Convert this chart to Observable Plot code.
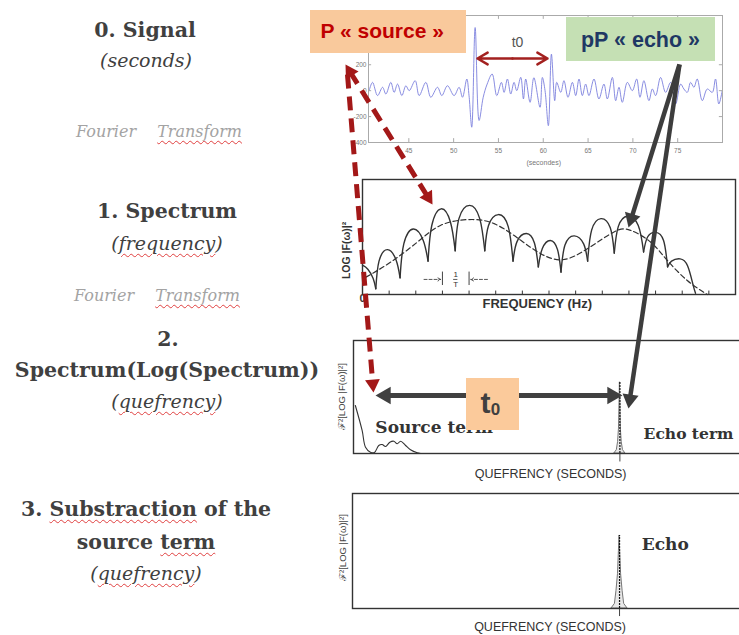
<!DOCTYPE html>
<html><head><meta charset="utf-8">
<script src="https://cdn.jsdelivr.net/npm/d3@7"></script>
<script src="https://cdn.jsdelivr.net/npm/@observablehq/plot@0.6"></script>
<style>
html,body{margin:0;padding:0;background:#fff;}
#stage{position:relative;width:739px;height:635px;overflow:hidden;background:#fff;}
.panel{position:absolute;}
.panel svg{overflow:visible;max-width:none !important;}
.lbl{position:absolute;transform:translate(-50%,-50%);white-space:nowrap;font-family:"DejaVu Serif",serif;color:#404040;text-align:center;line-height:1;}
.b{font-weight:bold;font-size:20.5px;}
.i{font-style:italic;font-size:19px;}
.ft{font-style:italic;font-size:16px;color:#a3a3a3;}
.sp{text-decoration:underline wavy #e04040;text-decoration-thickness:1px;text-underline-offset:3px;}
</style></head><body><div id="stage"></div>
<script>
// ---------- DATA ----------
// 0. Signal (seconds, amplitude)
const sigT = [40.57,40.95,41.51,42.07,42.44,42.99,43.36,43.74,44.22,44.67,45.04,45.71,46.15,46.9,47.45,48.2,48.68,49.31,50.05,50.61,50.99,51.47,51.72,52.02,52.4,52.84,53.3,53.74,54.3,54.81,55.33,55.63,56.0,56.37,56.74,57.04,57.49,57.79,58.04,58.53,58.95,59.64,59.9,60.2,60.57,60.91,61.28,61.5,61.95,62.31,62.76,63.25,63.62,63.99,64.36,64.73,65.1,65.66,66.21,66.77,67.15,67.71,68.08,68.45,68.82,69.38,69.94,70.42,70.79,71.23,71.79,72.17,72.54,73.09,73.65,74.21,74.77,75.33,75.69,76.07,76.44,76.81,77.18,77.74,78.3,78.86,79.22,79.59,79.97];
const sigV = [0,64,-38,26,-26,64,-13,51,-38,38,0,77,-38,64,-51,26,-38,38,-38,26,-51,90,-40,-282,487,-230,-51,51,128,-38,64,-13,90,-26,64,0,103,-64,90,-90,100,-128,102,0,-270,282,-77,64,-13,77,-51,64,-38,90,-38,51,-38,90,-64,51,-64,102,-77,26,-90,64,0,90,-51,77,-77,13,-38,102,-13,64,-103,51,13,-13,64,26,90,-77,13,-13,90,-103,0];
const sigXTicks = [45,50,55,60,65,70,75];
const sigYTicks = [200,0,-200,-400];

// 1. Spectrum: arches of log|F|^2 (frequency in tick units, level 0-10)
const archX = [
  [0,0.2,0.4,0.5],
  [0.5,0.62,0.94,1.26,1.41],
  [1.41,1.55,1.91,2.28,2.46],
  [2.46,2.6,2.95,3.3,3.48],
  [3.48,3.62,4.02,4.4,4.59],
  [4.59,4.73,5.1,5.47,5.65],
  [5.65,5.8,6.15,6.45,6.6],
  [6.6,6.75,7.05,7.32,7.45],
  [7.45,7.6,7.95,8.3,8.45],
  [8.45,8.6,8.95,9.3,9.45],
  [9.45,9.6,9.95,10.35,10.55],
  [10.55,10.7,11.0,11.3,11.45],
  [11.45,11.6,11.92,12.2,12.4,12.5]
];
const archY = [
  [2.55,2.2,1.4,0.5],
  [0.5,2.9,3.9,3.0,1.45],
  [1.45,4.4,5.7,4.7,2.9],
  [2.9,6.0,7.45,6.3,3.8],
  [3.8,6.6,7.75,6.6,3.8],
  [3.8,6.0,6.95,5.9,2.9],
  [2.9,4.6,5.3,4.5,2.4],
  [2.4,4.0,4.7,3.9,1.95],
  [1.95,4.3,5.1,4.4,2.9],
  [2.9,5.6,6.6,5.8,3.6],
  [3.6,5.9,6.8,6.0,3.7],
  [3.7,5.0,5.4,4.7,2.4],
  [2.4,2.9,3.1,2.5,0.9,0.1]
];
const envX = [0.13,1.06,2.06,2.94,3.94,4.94,5.94,6.69,7.5,8.44,9.44,10.06,10.81,11.44,12.19,12.94];
const envY = [1.51,2.82,4.56,6.02,6.51,6.16,4.71,3.55,3.02,3.98,5.44,5.58,4.56,2.97,1.22,0];
const specTicks = [1,2,3,4,5,6,7,8,9,10,11,12,13];
const periodMarks = [3,4];          // the 1/T interval

// 2. Cepstrum (quefrency in seconds)
const cepSrcX = [0.06,0.28,0.39,0.55,0.68,0.82,0.93,1.04,1.18,1.31,1.42,1.53,1.69,1.85,2.07,2.18];
const cepSrcY = [4.25,2.04,0.56,0.12,0.09,0.71,0.8,0.62,1.0,1.09,0.86,1.09,0.71,0.33,0.06,0];
const echoQ = 8.65;
const spikeDx2 = [-0.18,-0.1,-0.06,-0.03,-0.012,0,0.012,0.03,0.06,0.1,0.18];
const spikeY2  = [0,0.3,1.0,2.2,4.5,6.3,4.5,2.2,1.0,0.3,0];
// 3. After subtraction of the source term
const spikeDx3 = [-0.26,-0.15,-0.1,-0.05,-0.02,0,0.02,0.05,0.1,0.15,0.26];
const spikeY3  = [0,0.4,1.5,3.0,5.0,6.35,5.0,3.0,1.5,0.4,0];

// Annotation layer (page units)
const boxes = [
  {x1:310,x2:466,y1:10,y2:53,fill:"#f9c99c"},
  {x1:566,x2:715,y1:17,y2:61,fill:"#c5e0b4"}
];
const t0Box = [{x1:466,x2:519,y1:378,y2:430,fill:"#fbca9b"}];
const redDashed = [
  {x1:345,y1:64,x2:432,y2:204,start:true,end:true},
  {x1:347,y1:74,x2:373,y2:392,start:false,end:true}
];
const grayArrows = [
  {x1:679,y1:64,x2:628,y2:227,start:false,end:true},
  {x1:679,y1:64,x2:628,y2:408,start:false,end:true}
];
const t0Arrow = [{x1:375,y1:395,x2:622,y2:395,start:true,end:true}];
const sigT0Arrow = [{x1:512,y1:58,x2:477,y2:58},{x1:512,y1:58,x2:547,y2:58}];

const leftLabels = [
  {x:145,y:30,cls:"b",parts:[["0. Signal"]]},
  {x:146,y:60,cls:"i",parts:[["(seconds)"]]},
  {x:159,y:132,cls:"ft",parts:[["Fourier\u2003 "],["Transform",1]]},
  {x:167,y:211,cls:"b",parts:[["1. Spectrum"]]},
  {x:167,y:243,cls:"i",parts:[["("],["frequency",1],[")"]]},
  {x:157,y:296,cls:"ft",parts:[["Fourier\u2003 "],["Transform",1]]},
  {x:168,y:339,cls:"b",parts:[["2."]]},
  {x:167,y:370,cls:"b",parts:[["Spectrum(Log(Spectrum))"]]},
  {x:167,y:401,cls:"i",parts:[["("],["quefrency",1],[")"]]},
  {x:146,y:509,cls:"b",parts:[["3. "],["Substraction",1],[" of the"]]},
  {x:146,y:542,cls:"b",parts:[["source "],["term",1]]},
  {x:146,y:573,cls:"i",parts:[["("],["quefrency",1],[")"]]}
];

// ---------- BUILD ----------
const stage = document.getElementById("stage");
function place(node, left, top) {
  const d = document.createElement("div");
  d.className = "panel"; d.style.left = left + "px"; d.style.top = top + "px";
  node.style.maxWidth = "none";
  d.appendChild(node); stage.appendChild(d);
}
const sans = "'Liberation Sans', Arial, sans-serif";
const serif = "'DejaVu Serif', serif";

// Panel 0: signal
const signal = sigT.map((t, i) => ({t, v: sigV[i]}));
place(Plot.plot({
  width: 395, height: 170, marginLeft: 28, marginRight: 13, marginTop: 10, marginBottom: 33,
  style: {fontFamily: sans, background: "transparent"},
  x: {domain: [40.5, 80], label: null}, y: {domain: [-400, 580], label: null},
  marks: [
    Plot.line(signal, {x: "t", y: "v", curve: "catmull-rom", stroke: "#7c80de", strokeWidth: 0.9}),
    Plot.ruleX(sigXTicks, {x: d => d, y1: -400, y2: -370, stroke: "#aaa"}),
    Plot.ruleX(sigXTicks, {x: d => d, y1: 580, y2: 550, stroke: "#aaa"}),
    Plot.ruleY(sigYTicks, {y: d => d, x1: 40.5, x2: 40.85, stroke: "#aaa"}),
    Plot.ruleY(sigYTicks, {y: d => d, x1: 80, x2: 79.65, stroke: "#aaa"}),
    Plot.axisX(sigXTicks, {tickSize: 0, tickPadding: 6, fontSize: 6.5, fill: "#777", label: null}),
    Plot.axisY(sigYTicks, {tickSize: 0, tickPadding: 2, fontSize: 6.5, fill: "#777", label: null, tickFormat: d => String(d)}),
    Plot.frame({stroke: "#aaa", strokeWidth: 1}),
    Plot.text(["(secondes)"], {x: 60.05, y: -554, fontSize: 7, fill: "#777"})
  ]
}), 340, 5);

// Panel 1: spectrum
const arches = archX.flatMap((xs, k) => xs.map((x, i) => ({arch: k, x, y: archY[k][i]})));
const envelope = envX.map((x, i) => ({x, y: envY[i]}));
place(Plot.plot({
  width: 409, height: 146, marginLeft: 32, marginRight: 4, marginTop: 9, marginBottom: 22,
  style: {fontFamily: sans, background: "transparent"},
  x: {domain: [0, 14], axis: null}, y: {domain: [0, 10], axis: null},
  marks: [
    Plot.ruleX(specTicks, {x: d => d, y1: 0, y2: 0.3, stroke: "#333", strokeWidth: 1}),
    Plot.line(envelope, {x: "x", y: "y", curve: "natural", stroke: "#333", strokeWidth: 1.2, strokeDasharray: "5,3"}),
    Plot.line(arches, {x: "x", y: "y", z: "arch", curve: "natural", stroke: "#333", strokeWidth: 1.4}),
    Plot.ruleX(periodMarks, {x: d => d, y1: 0.78, y2: 1.95, stroke: "#444", strokeWidth: 1}),
    Plot.arrow([{a: 2.31, b: 2.93}, {a: 4.69, b: 4.07}], {x1: "a", x2: "b", y1: 1.31, y2: 1.31, stroke: "#444", strokeWidth: 0.9, strokeDasharray: "3,2", headLength: 5}),
    Plot.text(["1"], {x: 3.5, y: 1.74, fontSize: 8, fill: "#333"}),
    Plot.ruleY([1.31], {x1: 3.42, x2: 3.58, stroke: "#333", strokeWidth: 0.8}),
    Plot.text(["T"], {x: 3.5, y: 0.85, fontSize: 8, fill: "#333"}),
    Plot.frame({stroke: "#333", strokeWidth: 1.4}),
    Plot.text(["0"], {x: 0, y: -0.35, fontSize: 11, fontWeight: "bold", fill: "#333"}),
    Plot.text(["FREQUENCY (Hz)"], {x: 6.56, y: -0.8, fontSize: 13, fontWeight: "bold", fill: "#333"}),
    Plot.text(["LOG |F(ω)|²"], {x: -0.6, y: 3.83, rotate: -90, fontSize: 10.5, fontWeight: "bold", fill: "#333"})
  ]
}), 330, 170);

// Panel 2: cepstrum
const cepSrc = cepSrcX.map((x, i) => ({x, y: cepSrcY[i]}));
const spike2 = spikeDx2.map((dx, i) => ({x: echoQ + dx, y: spikeY2[i]}));
place(Plot.plot({
  width: 460, height: 150, marginLeft: 33, marginRight: 10, marginTop: 10, marginBottom: 27,
  style: {fontFamily: sans, background: "transparent"},
  x: {domain: [0, 13.54], axis: null}, y: {domain: [0, 10], axis: null},
  marks: [
    Plot.line(cepSrc, {x: "x", y: "y", curve: "catmull-rom", stroke: "#333", strokeWidth: 1.1}),
    Plot.areaY(spike2, {x: "x", y: "y", curve: "linear", fill: "#e8e8e8", stroke: "#777", strokeWidth: 1}),
    Plot.ruleX([echoQ], {x: d => d, y1: 0, y2: 6.3, stroke: "#111", strokeWidth: 1.2, strokeDasharray: "2,1"}),
    Plot.ruleX([echoQ], {x: d => d, y1: -0.75, y2: 0, stroke: "#444", strokeWidth: 1}),
    Plot.frame({stroke: "#333", strokeWidth: 1.4}),
    Plot.text(["Source term"], {x: 0.71, y: 2.26, textAnchor: "start", fontFamily: serif, fontWeight: "bold", fontSize: 17, fill: "#333"}),
    Plot.text(["Echo term"], {x: 9.42, y: 1.68, textAnchor: "start", fontFamily: serif, fontWeight: "bold", fontSize: 15.5, fill: "#333"}),
    Plot.text(["QUEFRENCY (SECONDS)"], {x: 6.4, y: -1.77, fontSize: 12.5, fill: "#333"}),
    Plot.text(["ℱ²[LOG |F(ω)|²]"], {x: -0.36, y: 5.04, rotate: -90, fontSize: 9.5, fill: "#444"})
  ]
}), 320, 330);

// Panel 3: subtraction of the source term
const spike3 = spikeDx3.map((dx, i) => ({x: echoQ + dx, y: spikeY3[i]}));
place(Plot.plot({
  width: 460, height: 152, marginLeft: 32, marginRight: 10, marginTop: 10, marginBottom: 27,
  style: {fontFamily: sans, background: "transparent"},
  x: {domain: [0, 13.54], axis: null}, y: {domain: [0, 10], axis: null},
  marks: [
    Plot.areaY(spike3, {x: "x", y: "y", curve: "linear", fill: "#e8e8e8", stroke: "#777", strokeWidth: 1}),
    Plot.ruleX([echoQ], {x: d => d, y1: 0, y2: 6.35, stroke: "#111", strokeWidth: 1.2, strokeDasharray: "2,1"}),
    Plot.ruleX([echoQ], {x: d => d, y1: -0.7, y2: 0, stroke: "#444", strokeWidth: 1}),
    Plot.frame({stroke: "#333", strokeWidth: 1.4}),
    Plot.text(["Echo"], {x: 9.37, y: 5.57, textAnchor: "start", fontFamily: serif, fontWeight: "bold", fontSize: 17, fill: "#333"}),
    Plot.text(["QUEFRENCY (SECONDS)"], {x: 6.4, y: -1.65, fontSize: 12.5, fill: "#333"}),
    Plot.text(["ℱ²[LOG |F(ω)|²]"], {x: -0.32, y: 5.3, rotate: -90, fontSize: 9.5, fill: "#444"})
  ]
}), 320, 483);

// Annotation overlay
function headsOf(arrs, r) {
  const k = 1.555 * r;
  return arrs.flatMap(a => {
    const L = Math.hypot(a.x2 - a.x1, a.y2 - a.y1), ux = (a.x2 - a.x1) / L, uy = (a.y2 - a.y1) / L;
    const out = [];
    if (a.end) out.push({x: a.x2 - ux * k, y: a.y2 - uy * k, rot: Math.atan2(ux, -uy) * 180 / Math.PI});
    if (a.start) out.push({x: a.x1 + ux * k, y: a.y1 + uy * k, rot: Math.atan2(-ux, uy) * 180 / Math.PI});
    return out;
  });
}
function shafts(arrs, r) {
  const k = 1.555 * r;
  return arrs.map(a => {
    const L = Math.hypot(a.x2 - a.x1, a.y2 - a.y1), ux = (a.x2 - a.x1) / L, uy = (a.y2 - a.y1) / L;
    return {x1: a.start ? a.x1 + ux * k : a.x1, y1: a.start ? a.y1 + uy * k : a.y1,
            x2: a.end ? a.x2 - ux * k : a.x2, y2: a.end ? a.y2 - uy * k : a.y2};
  });
}
const rRed = 5.5, rGray = 6, rBlack = 6.5;
const overlay = Plot.plot({
  width: 739, height: 635, margin: 0,
  style: {fontFamily: sans, background: "transparent"},
  x: {domain: [0, 739], range: [0, 739], axis: null},
  y: {domain: [0, 635], range: [0, 635], axis: null},
  marks: [
    Plot.rect(boxes, {x1: "x1", x2: "x2", y1: "y1", y2: "y2", fill: "fill"}),
    Plot.text(["P « source »"], {x: 320, y: 31, textAnchor: "start", fontSize: 21, fontWeight: "bold", fill: "#c00000"}),
    Plot.text(["pP « echo »"], {x: 640, y: 40, fontSize: 21.5, fontWeight: "bold", fill: "#1f3864"}),
    Plot.arrow(sigT0Arrow, {x1: "x1", y1: "y1", x2: "x2", y2: "y2", stroke: "#a3211f", strokeWidth: 2.5, headLength: 11}),
    Plot.text(["t0"], {x: 517, y: 42, fontSize: 14, fill: "#555"}),
    Plot.link(shafts(t0Arrow, rBlack), {x1: "x1", y1: "y1", x2: "x2", y2: "y2", stroke: "#404040", strokeWidth: 5}),
    Plot.dot(headsOf(t0Arrow, rBlack), {x: "x", y: "y", rotate: "rot", symbol: "triangle", r: rBlack, fill: "#404040"}),
    Plot.rect(t0Box, {x1: "x1", x2: "x2", y1: "y1", y2: "y2", fill: "fill"}),
    Plot.text(["t"], {x: 485, y: 403, fontSize: 30, fontWeight: "bold", fontFamily: "'Liberation Sans Narrow', 'Liberation Sans', sans-serif", fill: "#404040"}),
    Plot.text(["0"], {x: 495, y: 409, fontSize: 17, fontWeight: "bold", fontFamily: "'Liberation Sans Narrow', 'Liberation Sans', sans-serif", fill: "#404040"}),
    Plot.link(shafts(redDashed, rRed), {x1: "x1", y1: "y1", x2: "x2", y2: "y2", stroke: "#a31818", strokeWidth: 5, strokeDasharray: "14,8"}),
    Plot.dot(headsOf(redDashed, rRed), {x: "x", y: "y", rotate: "rot", symbol: "triangle", r: rRed, fill: "#a31818"}),
    Plot.link(shafts(grayArrows, rGray), {x1: "x1", y1: "y1", x2: "x2", y2: "y2", stroke: "#3d3d3d", strokeWidth: 4.5}),
    Plot.dot(headsOf(grayArrows, rGray), {x: "x", y: "y", rotate: "rot", symbol: "triangle", r: rGray, fill: "#3d3d3d"})
  ]
});
place(overlay, 0, 0);
overlay.style.pointerEvents = "none";

// Left-hand step labels
for (const L of leftLabels) {
  const d = document.createElement("div");
  d.className = "lbl " + L.cls;
  d.style.left = L.x + "px"; d.style.top = L.y + "px";
  for (const [txt, spell] of L.parts) {
    const s = document.createElement("span");
    if (spell) s.className = "sp";
    s.textContent = txt;
    d.appendChild(s);
  }
  stage.appendChild(d);
}
</script></body></html>
